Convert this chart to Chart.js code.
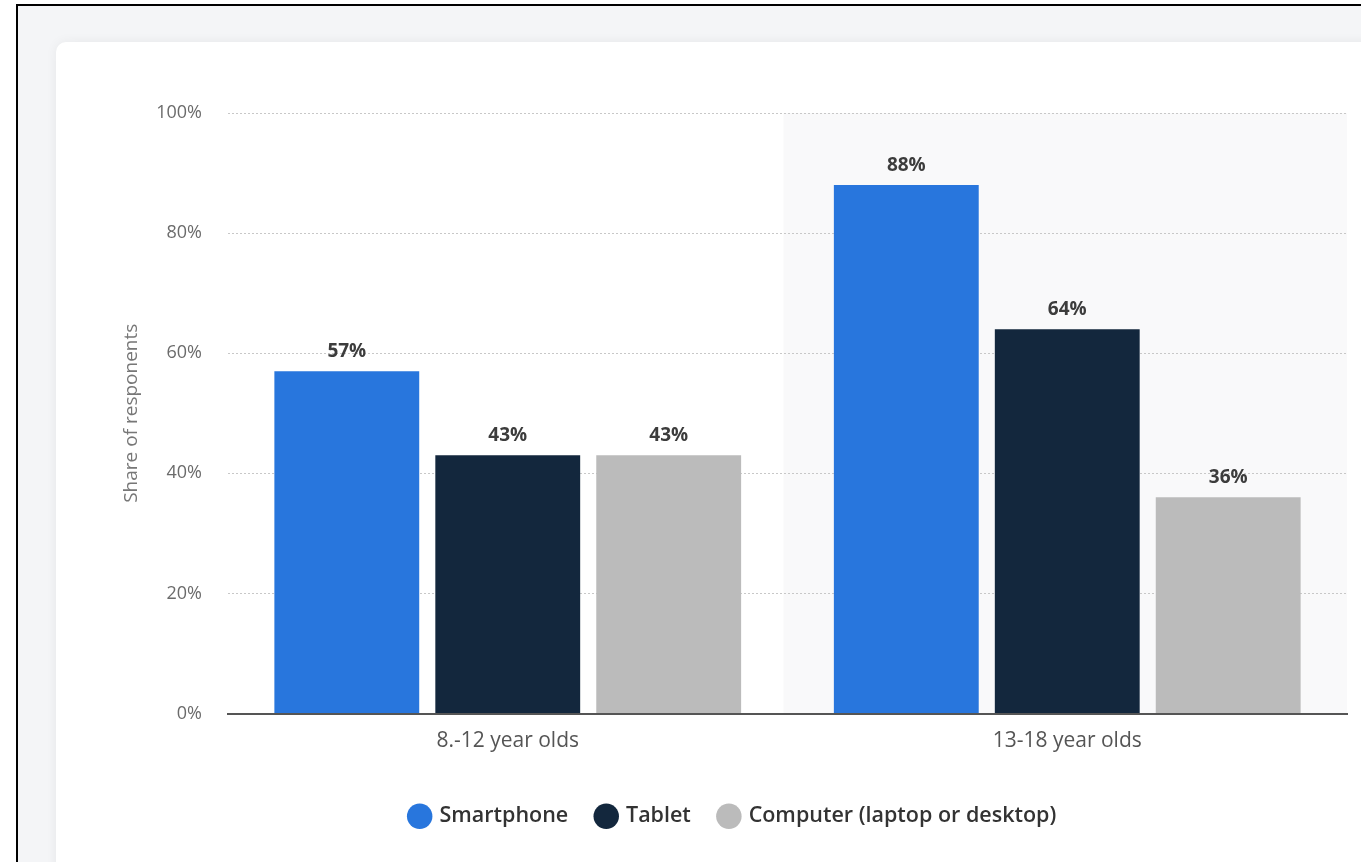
<!DOCTYPE html>
<html>
<head>
<meta charset="utf-8">
<script src="https://cdn.jsdelivr.net/npm/chart.js@4.4.0/dist/chart.umd.min.js"></script>
<style>
  body { margin: 0; background: #fff; overflow: hidden; font-family: "Open Sans", sans-serif; }
  #frame {
    position: absolute; left: 16px; top: 4px; width: 1400px; height: 900px;
    border: 2px solid #000; background: #f4f5f7;
  }
  #card {
    position: absolute; left: 56px; top: 42px; width: 1340px; height: 840px;
    background: #fff; border-radius: 10px; box-shadow: 0 0 12px rgba(0,0,0,0.06);
  }
  #chart { position: absolute; left: 56px; top: 42px; }
</style>
</head>
<body>
<div id="frame"></div>
<div id="card"></div>
<canvas id="chart" width="1305" height="820"></canvas>
<script>
// categories and values (share of respondents, %)
const ageGroups = ['8.-12 year olds', '13-18 year olds'];
const smartphone = [57, 88];
const tablet = [43, 64];
const computer = [43, 36];
const yTicks = [0, 20, 40, 60, 80, 100];

// light band behind the second group
const bandPlugin = {
    id: 'band',
    beforeDraw(chart) {
        const { ctx, chartArea, scales } = chart;
        const mid = scales.x.getPixelForValue(0.5);
        ctx.save();
        ctx.fillStyle = '#f9f9fa';
        ctx.fillRect(mid - 4, chartArea.top, chartArea.right - mid + 4, chartArea.bottom - chartArea.top);
        ctx.restore();
    }
};

// value labels on top of the bars
const valueLabels = {
    id: 'valueLabels',
    afterDatasetsDraw(chart) {
        const ctx = chart.ctx;
        ctx.save();
        ctx.font = 'bold 19px "Open Sans"';
        ctx.fillStyle = '#3c3c3c';
        ctx.textAlign = 'center';
        ctx.textBaseline = 'alphabetic';
        chart.data.datasets.forEach((ds, i) => {
            chart.getDatasetMeta(i).data.forEach((bar, j) => {
                ctx.fillText(ds.data[j] + '%', bar.x, bar.y - 14);
            });
        });
        ctx.restore();
    }
};

const ctx = document.getElementById('chart').getContext('2d');
new Chart(ctx, {
    type: 'bar',
    data: {
        labels: ageGroups,
        datasets: [
            { label: 'Smartphone', data: smartphone, backgroundColor: '#2876dd' },
            { label: 'Tablet', data: tablet, backgroundColor: '#13273d' },
            { label: 'Computer (laptop or desktop)', data: computer, backgroundColor: '#bbbbbb' },
        ],
    },
    options: {
        responsive: false,
        animation: false,
        layout: { padding: { left: 64, right: 14, top: 71, bottom: 25 } },
        datasets: {
            bar: { categoryPercentage: 0.863, barPercentage: 0.9 }
        },
        plugins: {
            tooltip: { enabled: false },
            legend: {
                position: 'bottom',
                labels: {
                    usePointStyle: true,
                    pointStyle: 'circle',
                    boxWidth: 18,
                    boxHeight: 18,
                    padding: 29,
                    color: '#333',
                    font: { family: 'Open Sans', size: 21.5, weight: '600' },
                },
            },
        },
        scales: {
            x: {
                afterFit(scale) { scale.height = 63; },
                grid: { display: false, drawTicks: false },
                border: { color: '#555', width: 2 },
                ticks: { color: '#555', padding: 15, font: { family: 'Open Sans', size: 21 } },
            },
            y: {
                min: 0,
                max: 100,
                afterFit(scale) { scale.width = 108; },
                afterBuildTicks(scale) { scale.ticks = yTicks.map(v => ({ value: v })); },
                border: { display: false, dash: [2, 2] },
                grid: { color: '#c8c8c8', lineWidth: 1, drawTicks: false },
                ticks: {
                    color: '#6b6b6b',
                    padding: 26,
                    font: { family: 'Open Sans', size: 18 },
                    callback: v => v + '%',
                },
                title: {
                    display: true,
                    text: 'Share of responents',
                    color: '#777',
                    padding: 0,
                    font: { family: 'Open Sans', size: 19 },
                },
            },
        },
    },
    plugins: [bandPlugin, valueLabels],
});
</script>
</body>
</html>
